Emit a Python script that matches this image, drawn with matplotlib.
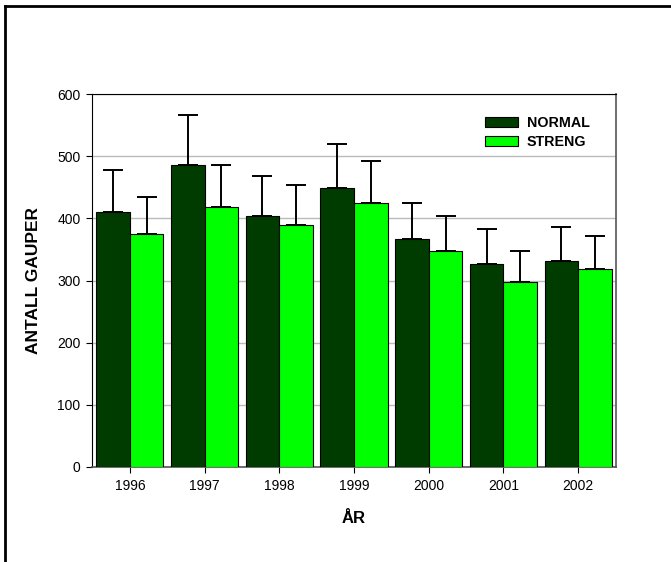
import numpy as np
import matplotlib.pyplot as plt
from matplotlib.lines import Line2D

plt.rcParams['font.family'] = ['Liberation Sans', 'DejaVu Sans']

years = ['1996', '1997', '1998', '1999', '2000', '2001', '2002']
normal = [410, 485, 403, 448, 366, 327, 331]
normal_err = [67, 81, 65, 72, 59, 56, 55]
streng = [374, 419, 390, 424, 347, 297, 319]
streng_err = [60, 67, 63, 68, 57, 51, 53]

fig = plt.figure(figsize=(6.71, 5.62), dpi=100)
ax = fig.add_axes([92.5 / 671, 1 - 467 / 562, 523 / 671, 373 / 562])

x = np.arange(len(years))
w = 0.45
ekw = dict(elinewidth=1.4, capthick=1.4, ecolor='black')
ax.bar(x - w / 2, normal, w, yerr=[np.zeros(len(x)), normal_err], capsize=7.5,
       color='#003c00', edgecolor='black', linewidth=0.8, error_kw=ekw,
       label='NORMAL', zorder=3)
ax.bar(x + w / 2, streng, w, yerr=[np.zeros(len(x)), streng_err], capsize=7.5,
       color='#00ff00', edgecolor='black', linewidth=0.8, error_kw=ekw,
       label='STRENG', zorder=3)

ax.set_xlim(-0.5, len(years) - 0.5)
ax.set_ylim(0, 600)
ax.set_yticks(range(0, 601, 100))
ax.set_xticks(x)
ax.set_xticklabels(years)
ax.yaxis.grid(True, color='#bbbbbb', linewidth=1, zorder=0)
ax.tick_params(axis='both', labelsize=10, direction='out', length=4.3, width=0.8,
               pad=4.3)
for s in ['left', 'top']:
    ax.spines[s].set_color('black')
for s in ['right', 'bottom']:
    ax.spines[s].set_color('#555555')
    ax.spines[s].set_linewidth(1.2)

ax.set_xlabel('ÅR', fontsize=12, fontweight='bold', labelpad=13)
ax.set_ylabel('ANTALL GAUPER', fontsize=12.5, fontweight='bold', labelpad=12)

ax.legend(loc='upper right', bbox_to_anchor=(0.975, 0.975), frameon=False,
          prop={'weight': 'bold', 'size': 10.3}, handlelength=2.3, handleheight=0.75,
          handletextpad=0.6, labelspacing=0.35)

# outer frame on the top and left edge
fig.add_artist(Line2D([5 / 671, 1], [1 - 6 / 562] * 2, color='black', lw=2,
                      transform=fig.transFigure))
fig.add_artist(Line2D([5 / 671] * 2, [0, 1 - 6 / 562], color='black', lw=2,
                      transform=fig.transFigure))

fig.savefig('out.png', dpi=100)
